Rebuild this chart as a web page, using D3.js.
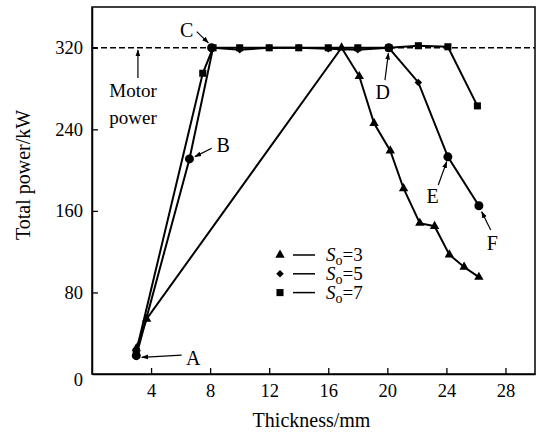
<!DOCTYPE html>
<html>
<head>
<meta charset="utf-8">
<script src="https://cdn.jsdelivr.net/npm/d3@7"></script>
<style>
  body { margin: 0; background: #fff; }
  text { font-family: "Liberation Serif", "Times New Roman", serif; fill: #000; }
</style>
</head>
<body>
<div id="chart"></div>
<script>
// Data (thickness mm, total power kW)
const s3 = [[3, 25], [3.7, 54], [16.9, 320], [18.1, 292], [19.1, 246], [20.2, 219], [21.1, 182],
            [22.2, 148], [23.2, 145], [24.2, 117], [25.2, 105], [26.2, 95]];
const s5 = [[3, 18], [6.6, 211], [8.2, 320], [10, 318], [12, 320], [14, 320], [16, 319],
            [18, 318], [20.1, 320], [22.1, 286], [24.1, 213], [26.2, 165]];
const s7 = [[3, 22], [7.5, 295], [8.2, 320], [10, 320], [12, 320], [14, 320], [16, 320],
            [18, 320], [20.1, 320], [22.1, 322], [24.1, 321], [26.1, 263]];
const motorPower = 320;
const xTicks = [4, 8, 12, 16, 20, 24, 28];
const yTicks = [0, 80, 160, 240, 320];
const legendLabels = ["3", "5", "7"];
// marked points A-F
const points = [[3, 18], [6.6, 211], [8.1, 320], [20.1, 320], [24.1, 213], [26.2, 165]];
// label, text pos, arrow from, arrow to
const notes = [
  ["A", [6.86, 15.4], [6.07, 18.6], [3.37, 16.4]],
  ["B", [8.89, 224.6], [8.11, 221.4], [6.97, 213.2]],
  ["C", [6.41, 337.4], [7.09, 335.8], [7.88, 324.8]],
  ["D", [19.69, 276.9], [19.84, 288.2], [20.07, 314.6]],
  ["E", [23.07, 174.6], [23.45, 185.4], [24.02, 208.3]],
  ["F", [27.11, 128.2], [27.0, 141.3], [26.39, 159.2]]
];

const width = 537, height = 434;
const svg = d3.select("#chart").append("svg")
  .attr("width", width).attr("height", height);

const x = d3.scaleLinear().domain([0, 30]).range([92, 535]);
const y = d3.scaleLinear().domain([0, 360]).range([374, 7]);

// frame
svg.append("rect")
  .attr("x", x(0)).attr("y", y(360))
  .attr("width", x(30) - x(0)).attr("height", y(0) - y(360))
  .attr("fill", "none").attr("stroke", "#000").attr("stroke-width", 1.5);

// axes (inward ticks)
const xAxis = svg.append("g").attr("transform", `translate(0,${y(0)})`)
  .call(d3.axisBottom(x).tickValues(xTicks).tickSizeInner(-6).tickSizeOuter(0).tickPadding(10));
const yAxis = svg.append("g").attr("transform", `translate(${x(0)},0)`)
  .call(d3.axisLeft(y).tickValues(yTicks).tickSizeInner(-6).tickSizeOuter(0).tickPadding(9));
[xAxis, yAxis].forEach(g => {
  g.select(".domain").attr("stroke-width", 1.5);
  g.selectAll(".tick line").attr("stroke-width", 1.3);
  g.selectAll(".tick text").style("font-size", "18.5px")
    .style("font-family", "Liberation Serif");
});
yAxis.selectAll(".tick").filter(d => d === 0).select("line").remove();
yAxis.selectAll(".tick").filter(d => d === 0).select("text").attr("dy", "0.6em");

svg.append("text")
  .attr("x", (x(0) + x(30)) / 2 - 2).attr("y", 427)
  .attr("text-anchor", "middle").style("font-size", "20px")
  .text("Thickness/mm");
svg.append("text")
  .attr("transform", `translate(30,175) rotate(-90)`)
  .attr("text-anchor", "middle").style("font-size", "20px")
  .text("Total power/kW");

// motor power line
svg.append("line")
  .attr("x1", x(0)).attr("x2", x(30))
  .attr("y1", y(motorPower)).attr("y2", y(motorPower))
  .attr("stroke", "#000").attr("stroke-width", 1.5).attr("stroke-dasharray", "6,3");

const defs = svg.append("defs");
defs.append("marker").attr("id", "arrow")
  .attr("viewBox", "0 0 10 10").attr("refX", 9).attr("refY", 5)
  .attr("markerWidth", 7).attr("markerHeight", 7).attr("orient", "auto")
  .attr("markerUnits", "userSpaceOnUse")
  .append("path").attr("d", "M0,1.5 L10,5 L0,8.5 Z").attr("fill", "#000");

const line = d3.line().x(d => x(d[0])).y(d => y(d[1]));
const series = [
  { data: s3, sym: d3.symbolTriangle, size: 38, rot: 0 },
  { data: s5, sym: d3.symbolSquare, size: 28, rot: 45 },
  { data: s7, sym: d3.symbolSquare, size: 50, rot: 0 }
];
series.forEach(s => {
  svg.append("path").datum(s.data)
    .attr("d", line).attr("fill", "none")
    .attr("stroke", "#000").attr("stroke-width", 2);
  svg.append("g").selectAll("path").data(s.data).join("path")
    .attr("transform", d => `translate(${x(d[0])},${y(d[1])}) rotate(${s.rot})`)
    .attr("d", d3.symbol().type(s.sym).size(s.size))
    .attr("fill", "#000");
});

svg.append("g").selectAll("circle").data(points).join("circle")
  .attr("cx", d => x(d[0])).attr("cy", d => y(d[1])).attr("r", 4.5)
  .attr("fill", "#000");

// annotations
notes.forEach(([label, t, a, b]) => {
  svg.append("line")
    .attr("x1", x(a[0])).attr("y1", y(a[1]))
    .attr("x2", x(b[0])).attr("y2", y(b[1]))
    .attr("stroke", "#000").attr("stroke-width", 1.2)
    .attr("marker-end", "url(#arrow)");
  svg.append("text")
    .attr("x", x(t[0])).attr("y", y(t[1])).attr("dy", "0.35em")
    .attr("text-anchor", "middle").style("font-size", "20px")
    .text(label);
});

// motor power label
svg.append("line")
  .attr("x1", x(3.11)).attr("y1", y(290.4))
  .attr("x2", x(3.11)).attr("y2", y(317.8))
  .attr("stroke", "#000").attr("stroke-width", 1.2)
  .attr("marker-end", "url(#arrow)");
svg.append("text").attr("x", x(2.78)).attr("y", y(278.1)).attr("dy", "0.35em")
  .attr("text-anchor", "middle").style("font-size", "19px").text("Motor");
svg.append("text").attr("x", x(2.78)).attr("y", y(252.1)).attr("dy", "0.35em")
  .attr("text-anchor", "middle").style("font-size", "19px").text("power");

// legend
const legend = svg.append("g");
series.forEach((s, i) => {
  const ly = 255 + i * 18.8;
  legend.append("path")
    .attr("transform", `translate(280,${ly}) rotate(${s.rot})`)
    .attr("d", d3.symbol().type(s.sym).size(s.size)).attr("fill", "#000");
  legend.append("line").attr("x1", 293).attr("x2", 315)
    .attr("y1", ly).attr("y2", ly).attr("stroke", "#000").attr("stroke-width", 1.5);
  const t = legend.append("text").attr("x", 326).attr("y", ly + 6).style("font-size", "19px");
  t.append("tspan").style("font-style", "italic").text("S");
  t.append("tspan").attr("dy", 4).style("font-size", "14px").text("o");
  t.append("tspan").attr("dy", -4).text("=" + legendLabels[i]);
});
</script>
</body>
</html>
